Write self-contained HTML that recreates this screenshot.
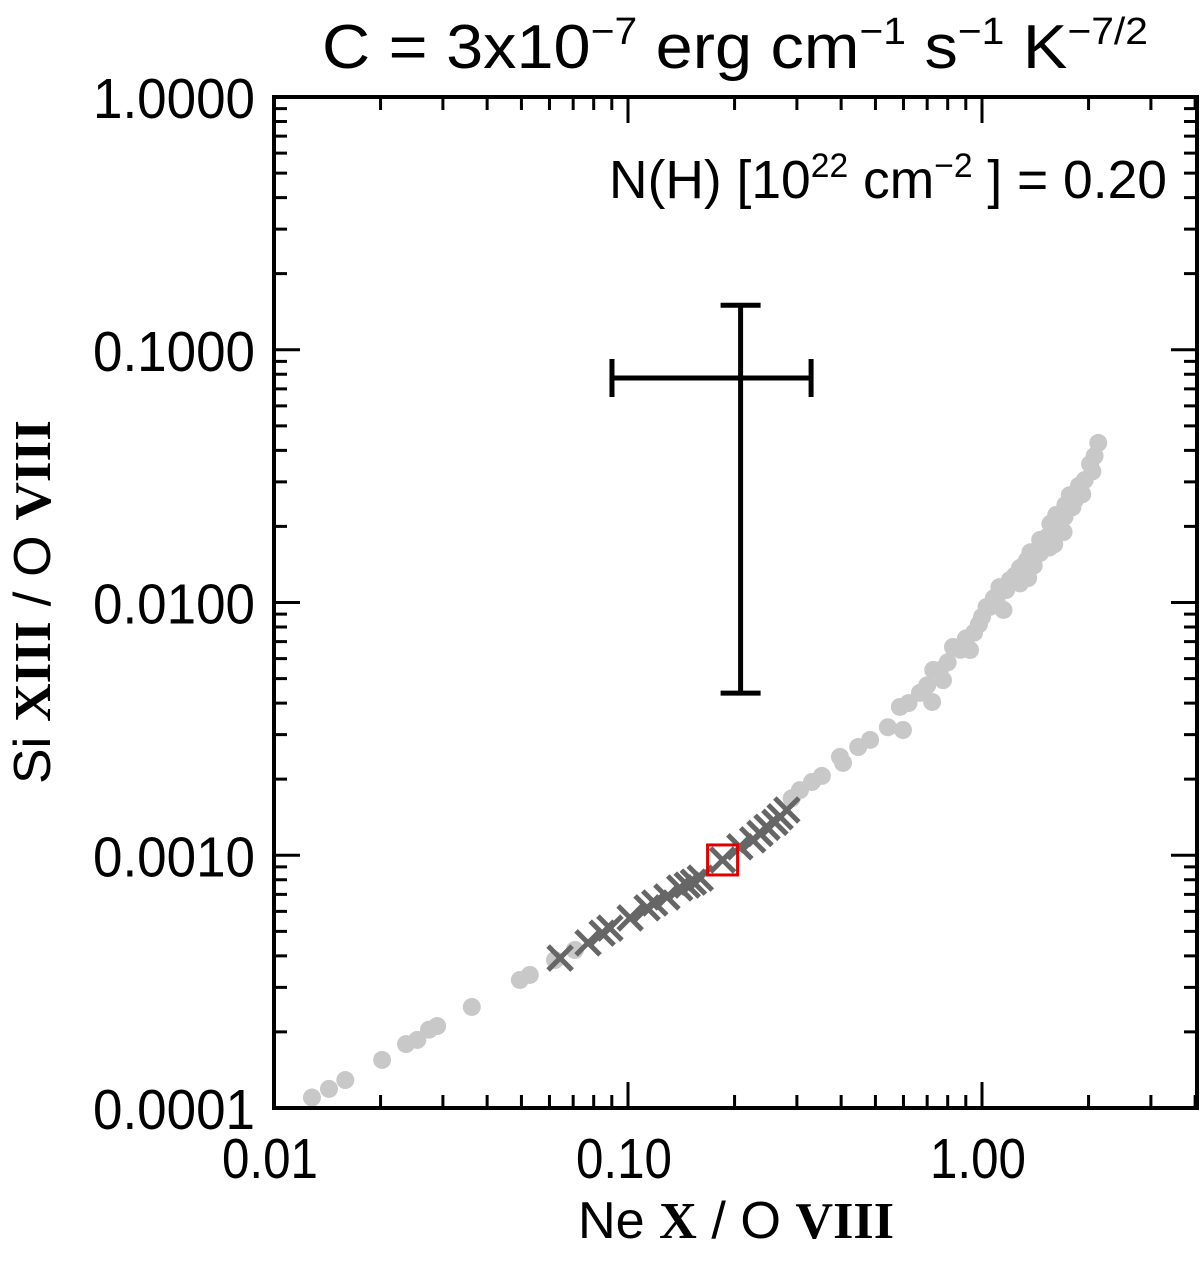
<!DOCTYPE html>
<html><head><meta charset="utf-8"><style>
html,body{margin:0;padding:0;background:#fff;}
svg{display:block;font-family:"Liberation Sans",sans-serif;}
.r{font-family:"Liberation Serif",serif;font-weight:bold;}
</style></head><body>
<svg id="chart" width="1200" height="1263" viewBox="0 0 1200 1263" xmlns="http://www.w3.org/2000/svg">
<g id="marks"></g>
<g id="axes"></g>
<text x="735" y="68" font-size="62" text-anchor="middle" textLength="826" lengthAdjust="spacingAndGlyphs">C = 3x10<tspan dy="-24" font-size="38">−7</tspan><tspan dy="24"> erg cm</tspan><tspan dy="-24" font-size="38">−1</tspan><tspan dy="24"> s</tspan><tspan dy="-24" font-size="38">−1</tspan><tspan dy="24"> K</tspan><tspan dy="-24" font-size="38">−7/2</tspan></text>
<text x="1167" y="198" font-size="54" text-anchor="end" textLength="558" lengthAdjust="spacingAndGlyphs">N(H) [10<tspan dy="-21" font-size="34">22</tspan><tspan dy="21"> cm</tspan><tspan dy="-21" font-size="34">−2</tspan><tspan dy="21"> ] = 0.20</tspan></text>
<text x="736" y="1238" font-size="52" text-anchor="middle" textLength="316" lengthAdjust="spacingAndGlyphs">Ne <tspan class="r">X</tspan> / O <tspan class="r">VIII</tspan></text>
<text transform="translate(50,602) rotate(-90)" font-size="52" text-anchor="middle" textLength="364" lengthAdjust="spacingAndGlyphs">Si <tspan class="r">XIII</tspan> / O <tspan class="r">VIII</tspan></text>
</svg>
<script>
const xTickVals=[0.01,0.1,1.0];
const xTickLabels=["0.01","0.10","1.00"];
const yTickVals=[1,0.1,0.01,0.001,0.0001];
const yTickLabels=["1.0000","0.1000","0.0100","0.0010","0.0001"];
const grayX=[0.0128,0.0143,0.0159,0.0202,0.0236,0.0254,0.0274,0.0289,0.0362,0.0495,0.0528,0.0622,0.0708,0.290,0.306,0.331,0.353,0.405,0.397,0.447,0.483,0.542,0.586,0.598,0.668,0.723,0.728,0.776,0.828,0.925,1.00,1.05,1.15,1.12,1.28,1.34,1.46,1.53,1.20,1.37,1.56,1.77,2.02,2.13,1.66,1.83,1.95,1.46,1.28,1.62,1.72,1.88,2.05,0.62,0.70,0.76,0.80,0.87,0.95,1.03,1.08,1.10,1.17,1.24,1.31,1.41,1.51,1.61,1.71,1.80,1.92,2.08,1.40,1.55,1.70,1.60,1.35,0.98,0.90];
const grayY=[0.000110,0.000119,0.000129,0.000155,0.000179,0.000186,0.000204,0.000211,0.000251,0.000321,0.000336,0.000385,0.000422,0.00168,0.00181,0.00195,0.00206,0.00232,0.00245,0.00268,0.00286,0.00321,0.00386,0.00313,0.00439,0.00404,0.00541,0.00493,0.00667,0.00649,0.00877,0.0096,0.00934,0.0115,0.0119,0.0147,0.0157,0.0182,0.0123,0.0158,0.0205,0.0266,0.0353,0.0428,0.0212,0.0254,0.0305,0.0177,0.0137,0.0222,0.0243,0.0290,0.0330,0.00400,0.00470,0.00540,0.00580,0.00650,0.00760,0.00960,0.0104,0.0101,0.0112,0.0128,0.0140,0.0155,0.0175,0.0195,0.0218,0.0238,0.0268,0.0380,0.0140,0.0165,0.0190,0.0170,0.0125,0.00820,0.00720];
const crossX=[0.0643,0.0771,0.0845,0.0889,0.1014,0.1132,0.119,0.1288,0.140,0.147,0.153,0.160,0.185,0.207,0.225,0.236,0.247,0.260,0.269,0.281];
const crossY=[0.000392,0.000450,0.000492,0.000515,0.000565,0.000619,0.000647,0.000684,0.000742,0.000762,0.000783,0.000812,0.000958,0.00108,0.00115,0.00122,0.00129,0.00135,0.00142,0.00151];
const highlightX=[0.185];
const highlightY=[0.000958];
const errX=[0.208], errXLow=[0.0901], errXHigh=[0.329];
const errY=[0.0773], errYLow=[0.00438], errYHigh=[0.150];

const L=274,R=1197,T=97,B=1108;
const xmin=-2, xdec=354;
const ymax=0, ydec=(B-T)/4;
function sx(v){return L+(Math.log10(v)-xmin)*xdec;}
function sy(v){return T+(ymax-Math.log10(v))*ydec;}
const NS="http://www.w3.org/2000/svg";
function mk(tag,parent,attrs){const e=document.createElementNS(NS,tag);for(const k in attrs)e.setAttribute(k,attrs[k]);parent.appendChild(e);return e;}
const marks=document.getElementById('marks'), axes=document.getElementById('axes');

for(let i=0;i<grayX.length;i++){
  const c=mk('circle',marks,{cx:sx(grayX[i]),cy:sy(grayY[i]),r:9,fill:'#c8c8c8'});
  
  
}
for(let i=0;i<crossX.length;i++){
  const x=sx(crossX[i]),y=sy(crossY[i]),s=12;
  const p=mk('path',marks,{d:`M${x-s},${y-s}L${x+s},${y+s}M${x-s},${y+s}L${x+s},${y-s}`,stroke:'#666',"stroke-width":5,fill:'none'});
  
  
}
for(let i=0;i<highlightX.length;i++){
  const x=sx(highlightX[i]),y=sy(highlightY[i]);
  const r=mk('rect',marks,{x:x-15,y:y-15,width:30,height:30,fill:'none',stroke:'#e00000',"stroke-width":3});
  
  
}
for(let i=0;i<errX.length;i++){
  const cx=sx(errX[i]),cy=sy(errY[i]),x0=sx(errXLow[i]),x1=sx(errXHigh[i]),y0=sy(errYHigh[i]),y1=sy(errYLow[i]);
  const g=mk('path',marks,{d:`M${x0},${cy}H${x1}M${x0},${cy-19}V${cy+19}M${x1},${cy-19}V${cy+19}M${cx},${y0}V${y1}M${cx-20},${y0}H${cx+20}M${cx-20},${y1}H${cx+20}`,stroke:'#000',"stroke-width":5,fill:'none'});
  
  
}
const fr=mk('rect',axes,{x:L,y:T,width:R-L,height:B-T,fill:'none',stroke:'#000',"stroke-width":4});


let d='';
for(let e=-2;e<=0;e++){for(let m=1;m<=9;m++){const v=m*Math.pow(10,e);const x=sx(v);if(x<L-1||x>R)continue;const len=m===1?26:13;d+=`M${x},${B}V${B-len}M${x},${T}V${T+len}`;}}
for(let e=-4;e<0;e++){for(let m=1;m<=9;m++){const v=m*Math.pow(10,e);const y=sy(v);const len=m===1?26:13;d+=`M${L},${y}H${L+len}M${R},${y}H${R-len}`;}}
const tk=mk('path',axes,{d:d,stroke:'#000',"stroke-width":3,fill:'none'});


for(let i=0;i<xTickVals.length;i++){
  const t=mk('text',axes,{x:sx(xTickVals[i])-4,y:1178,"font-size":57,"text-anchor":"middle",textLength:96,lengthAdjust:"spacingAndGlyphs"});
  t.textContent=xTickLabels[i];
  
  
}
for(let i=0;i<yTickVals.length;i++){
  const t=mk('text',axes,{x:255,y:sy(yTickVals[i])+21,"font-size":57,"text-anchor":"end",textLength:162,lengthAdjust:"spacingAndGlyphs"});
  t.textContent=yTickLabels[i];
  
  
}
</script>
</body></html>
